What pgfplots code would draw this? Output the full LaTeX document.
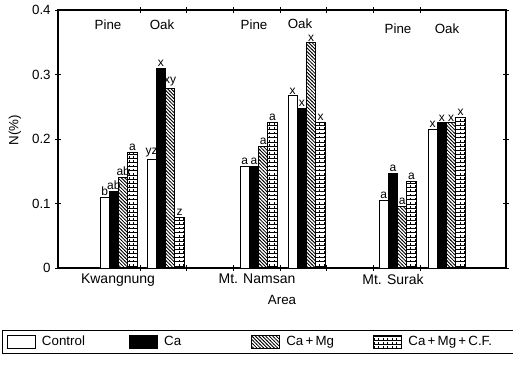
\documentclass[border=0pt]{standalone}
\usepackage{fontspec}
\setmainfont{Liberation Sans}
\usepackage{pgfplots}
\usepackage{pgfplotstable}
\pgfplotsset{compat=1.18}
\usetikzlibrary{patterns}

\pgfdeclarepatternformonly{ladder}{\pgfqpoint{-0.5pt}{-0.5pt}}{\pgfqpoint{4pt}{3.5pt}}{\pgfqpoint{3.4pt}{3.1pt}}{%
 \pgfsetlinewidth{0.45pt}%
 \pgfpathmoveto{\pgfqpoint{-0.1pt}{0pt}}\pgfpathlineto{\pgfqpoint{3.5pt}{0pt}}%
 \pgfpathmoveto{\pgfqpoint{1.7pt}{0pt}}\pgfpathlineto{\pgfqpoint{1.7pt}{1.5pt}}%
 \pgfusepath{stroke}}

\pgfdeclarepatternformonly{hatch}{\pgfqpoint{-1pt}{-1pt}}{\pgfqpoint{4pt}{4pt}}{\pgfqpoint{2.6pt}{2.6pt}}{%
 \pgfsetlinewidth{0.6pt}%
 \pgfpathmoveto{\pgfqpoint{-0.2pt}{2.8pt}}\pgfpathlineto{\pgfqpoint{2.8pt}{-0.2pt}}%
 \pgfusepath{stroke}}

\pgfplotstableread{
x y l
104.6 0.110 b
151.6 0.169 yz
244.6 0.157 a
292.6 0.267 x
383.6 0.105 a
432.6 0.215 x
}\control
\pgfplotstableread{
x y l
113.9 0.119 ab
160.9 0.310 x
253.9 0.157 a
301.9 0.248 x
392.9 0.146 a
441.9 0.225 x
}\ca
\pgfplotstableread{
x y l
123.2 0.141 ab
170.2 0.279 xy
263.2 0.188 a
311.2 0.349 x
402.2 0.095 a
451.2 0.225 x
}\camg
\pgfplotstableread{
x y l
132.5 0.180 a
179.5 0.079 z
272.5 0.226 a
320.5 0.226 x
411.5 0.135 a
460.5 0.234 x
}\camgcf

\newcommand{\lt}[1]{\makebox[66pt][l]{\hspace*{3pt}#1}}

\begin{document}
\begin{tikzpicture}
\useasboundingbox (0,0) rectangle (384.75pt,273.75pt);
\begin{axis}[
  at={(43.5pt,72.75pt)}, anchor=south west,
  scale only axis, width=336pt, height=193.5pt,
  xmin=58, xmax=506, ymin=0, ymax=0.4,
  font=\fontsize{10}{12}\selectfont,
  /pgf/number format/assume math mode=true,
  axis line style={line width=0.8pt},
  ytick={0,0.1,0.2,0.3,0.4},
  yticklabel style={/pgf/number format/fixed, /pgf/number format/precision=1},
  tick align=center, major tick length=4pt,
  tick style={line width=0.6pt, black},
  xtick={140,186.7,233.3,280,326.7,373.3,420},
  xticklabels={},
  extra x ticks={118,257,393},
  extra x tick labels={Kwangnung,Mt. Namsan,Mt. Surak},
  extra x tick style={major tick length=0pt, tick label style={font=\fontsize{10.5}{12}\selectfont, yshift=-1pt}},
  xlabel={Area},
  xlabel style={at={(axis description cs:0.5,-0.125)}, anchor=center},
  ylabel={N(\%)},
  ylabel style={at={(axis description cs:-0.096,0.535)}, anchor=center, rotate=0},
  nodes near coords style={font=\fontsize{9}{10}\selectfont, inner sep=1pt},
  legend columns=4,
  legend style={at={(axis description cs:-0.125,-0.287)}, anchor=west,
    draw=black, line width=0.8pt, inner xsep=3pt, inner ysep=2pt,
    font=\fontsize{10}{12}\selectfont,
    nodes={inner sep=2pt}, column sep=0pt},
  legend image code/.code={\draw[#1, line width=0.6pt] (0pt,-4.5pt) rectangle (21pt,5pt);},
]
\addplot[ybar, bar width=9.3, bar shift=0pt, draw=black, line width=0.6pt, fill=white,
  nodes near coords, point meta=explicit symbolic] table[x=x,y=y,meta=l] {\control};
\addlegendentry{\lt{Control}}
\addplot[ybar, bar width=9.3, bar shift=0pt, draw=black, line width=0.6pt, fill=black,
  nodes near coords, point meta=explicit symbolic] table[x=x,y=y,meta=l] {\ca};
\addlegendentry{\lt{Ca}}
\addplot[ybar, bar width=9.3, bar shift=0pt, draw=black, line width=0.6pt, pattern=hatch,
  nodes near coords, point meta=explicit symbolic] table[x=x,y=y,meta=l] {\camg};
\addlegendentry{\lt{Ca\,+\,Mg}}
\addplot[ybar, bar width=9.3, bar shift=0pt, draw=black, line width=0.6pt, pattern=ladder,
  nodes near coords, point meta=explicit symbolic] table[x=x,y=y,meta=l] {\camgcf};
\addlegendentry{\makebox[78pt][l]{\hspace*{3pt}Ca\,+\,Mg\,+\,C.F.}}

\node[font=\fontsize{10}{12}\selectfont] at (axis cs:108,0.377) {Pine};
\node[font=\fontsize{10}{12}\selectfont] at (axis cs:162,0.377) {Oak};
\node[font=\fontsize{10}{12}\selectfont] at (axis cs:254,0.377) {Pine};
\node[font=\fontsize{10}{12}\selectfont] at (axis cs:300,0.379) {Oak};
\node[font=\fontsize{10}{12}\selectfont] at (axis cs:398,0.371) {Pine};
\node[font=\fontsize{10}{12}\selectfont] at (axis cs:447,0.371) {Oak};
\end{axis}
\end{tikzpicture}
\end{document}
